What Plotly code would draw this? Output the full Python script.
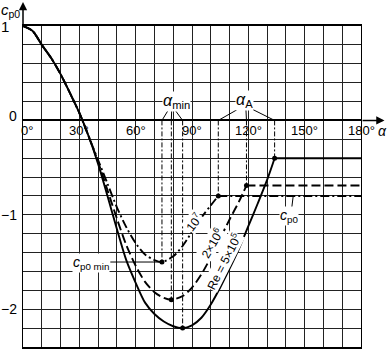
import numpy as np
import plotly.graph_objects as go

# ---- data (alpha in degrees, pressure coefficient c_p0) ----
alpha_re5e5 = [0, 5, 10, 15, 20, 25, 30, 35, 40, 45, 50, 55, 60, 65, 70, 75, 80, 85,
               90, 95, 100, 105, 110, 115, 120, 125, 130, 134]
cp_re5e5 = [1.0, 0.95, 0.80, 0.66, 0.49, 0.29, 0.08, -0.17, -0.46, -0.80, -1.15, -1.48,
            -1.72, -1.93, -2.05, -2.13, -2.18, -2.20, -2.17, -2.09, -1.95, -1.77, -1.57,
            -1.36, -1.12, -0.88, -0.63, -0.40]

alpha_re2e6 = [0, 5, 10, 15, 20, 25, 30, 35, 40, 45, 50, 55, 60, 65, 70, 75, 79,
               85, 90, 95, 100, 105, 110, 115, 119]
cp_re2e6 = [1.0, 0.95, 0.80, 0.66, 0.49, 0.29, 0.08, -0.17, -0.44, -0.74, -1.04, -1.32,
            -1.54, -1.71, -1.82, -1.88, -1.90, -1.86, -1.77, -1.63, -1.45, -1.25, -1.05,
            -0.86, -0.69]

alpha_re1e7 = [0, 5, 10, 15, 20, 25, 30, 35, 40, 45, 50, 55, 60, 65, 70, 74,
               80, 85, 90, 95, 100, 104]
cp_re1e7 = [1.0, 0.95, 0.80, 0.66, 0.49, 0.29, 0.08, -0.17, -0.42, -0.67, -0.92, -1.13,
            -1.30, -1.42, -1.48, -1.50, -1.44, -1.33, -1.18, -1.03, -0.90, -0.80]

alpha_end = 180
series_labels = ["Re = 5×10<sup>5</sup>", "2×10<sup>6</sup>", "10<sup>7</sup>"]

xtick_vals = [0, 30, 60, 90, 120, 150, 180]
xtick_text = ["0°", "30°", "60°", "90°", "120°", "150°", "180°"]
ytick_vals = [1, 0, -1, -2]
ytick_text = ["1", "0", "−1", "−2"]

# ---- axes ranges ----
XR = [0, 180]
YR = [-2.4, 1.0]

def px(a):
    return (a - XR[0]) / (XR[1] - XR[0])

def py(c):
    return (c - YR[0]) / (YR[1] - YR[0])

# ---- styling ----
FONT = "Liberation Sans, Arial, sans-serif"
dashes = ["solid", "9px,4px", "9px,3px,2px,3px"]
guide_dash = "5px,2px,2px,2px"

fig = go.Figure()
series = [(alpha_re5e5, cp_re5e5), (alpha_re2e6, cp_re2e6), (alpha_re1e7, cp_re1e7)]
min_pts, sep_pts = [], []
for (a, c), d in zip(series, dashes):
    i = int(np.argmin(c))
    min_pts.append((a[i], c[i]))
    sep_pts.append((a[-1], c[-1]))
    fig.add_trace(go.Scatter(x=[a[i], a[i], None, a[-1], a[-1]],
                             y=[0, c[i], None, 0, c[-1]], mode="lines",
                             line=dict(color="black", width=1, dash=guide_dash),
                             hoverinfo="skip"))
    fig.add_trace(go.Scatter(x=a, y=c, mode="lines",
                             line=dict(color="black", width=1.9, dash=d,
                                       shape="spline", smoothing=0.8)))
    fig.add_trace(go.Scatter(x=[a[-1], alpha_end], y=[c[-1], c[-1]], mode="lines",
                             line=dict(color="black", width=1.9, dash=d)))
    fig.add_trace(go.Scatter(x=[a[i], a[-1]], y=[c[i], c[-1]], mode="markers",
                             marker=dict(color="black", size=5)))

mins_sorted = sorted(p[0] for p in min_pts)
seps_sorted = sorted(p[0] for p in sep_pts)
lx, ly = [], []
for s, e in zip([78.0, 79.2, 80.2], mins_sorted):
    lx += [s, e, None]; ly += [0.13, 0, None]
for s, e in zip([115.5, 118.7, 120.9], seps_sorted):
    lx += [s, e, None]; ly += [0.13, 0, None]
m7 = min_pts[2]
lx += [46.5, m7[0], None]; ly += [m7[1], m7[1], None]
lx += [143.1, 143.9, None]; ly += [-0.93, sep_pts[2][1], None]
fig.add_trace(go.Scatter(x=lx, y=ly, mode="lines",
                         line=dict(color="black", width=1), hoverinfo="skip"))

ann = []
def A(x, y, text, size=13, **kw):
    d = dict(x=px(x), y=py(y), xref="paper", yref="paper", text=text, showarrow=False,
             xanchor="center", yanchor="middle",
             font=dict(family=FONT, size=size, color="black"))
    d.update(kw)
    ann.append(d)

for v, t in zip(xtick_vals, xtick_text):
    A(v + (2.2 if v == 0 else 0), -0.105, t, 13)
for v, t in zip(ytick_vals, ytick_text):
    if v == 1:
        A(-6.5, v, t, 15, xanchor="right")
    else:
        A(-2.0, v + (0.05 if v == 0 else 0), t, 14, xanchor="right")

A(-0.6, 1.165, "<i>c</i><sub>p0</sub>", 15, xanchor="right")
A(191.6, -0.115, "<i>α</i>", 14)
A(81.8, 0.205, "<i>α</i><sub>min</sub>", 16, bgcolor="white", borderpad=0)
A(117.8, 0.215, "<i>α</i><sub>A</sub>", 16, bgcolor="white", borderpad=0)
A(46.3, -1.515, "<i>c</i><sub>p0 min</sub>", 14, xanchor="right", bgcolor="white", borderpad=0)
A(141.6, -1.01, "<i>c</i><sub>p0</sub>", 14, bgcolor="white", borderpad=0)
A(106.9, -1.49, series_labels[0], 12, textangle=-63, bgcolor="white", borderpad=0)
A(100.6, -1.30, series_labels[1], 12, textangle=-60, bgcolor="white", borderpad=0)
A(91.0, -1.08, series_labels[2], 12, textangle=-53, bgcolor="white", borderpad=0)

# axis arrows (tip in paper coords, tail offset in pixels)
ppd = 338 / 180.0      # pixels per degree
ppu = 321 / 3.4        # pixels per unit of c_p0
ann.append(dict(x=px(192.5), y=py(0), xref="paper", yref="paper",
                ax=-(192.5 - 180) * ppd, ay=0, text="", showarrow=True,
                arrowhead=2, arrowsize=1.1, arrowwidth=1.5, arrowcolor="black"))
ann.append(dict(x=px(0), y=py(1.255), xref="paper", yref="paper",
                ax=0, ay=0.255 * ppu, text="", showarrow=True,
                arrowhead=2, arrowsize=1.1, arrowwidth=1.5, arrowcolor="black"))

fig.update_layout(
    width=391, height=353,
    margin=dict(l=23, r=30, t=26, b=6, pad=0),
    paper_bgcolor="white", plot_bgcolor="white",
    showlegend=False, annotations=ann,
    font=dict(family=FONT, color="black"),
    xaxis=dict(range=XR, tick0=0, dtick=10, showgrid=True, gridcolor="#222",
               gridwidth=1, zeroline=False, showline=True, linecolor="black",
               linewidth=1.5, mirror=True, showticklabels=False, ticks="", fixedrange=True),
    yaxis=dict(range=YR, tick0=0, dtick=0.2, showgrid=True, gridcolor="#222",
               gridwidth=1, zeroline=True, zerolinecolor="black", zerolinewidth=1.8,
               showline=True, linecolor="black", linewidth=1.2, mirror=True,
               showticklabels=False, ticks="", fixedrange=True),
)

fig.write_html("out.html")
